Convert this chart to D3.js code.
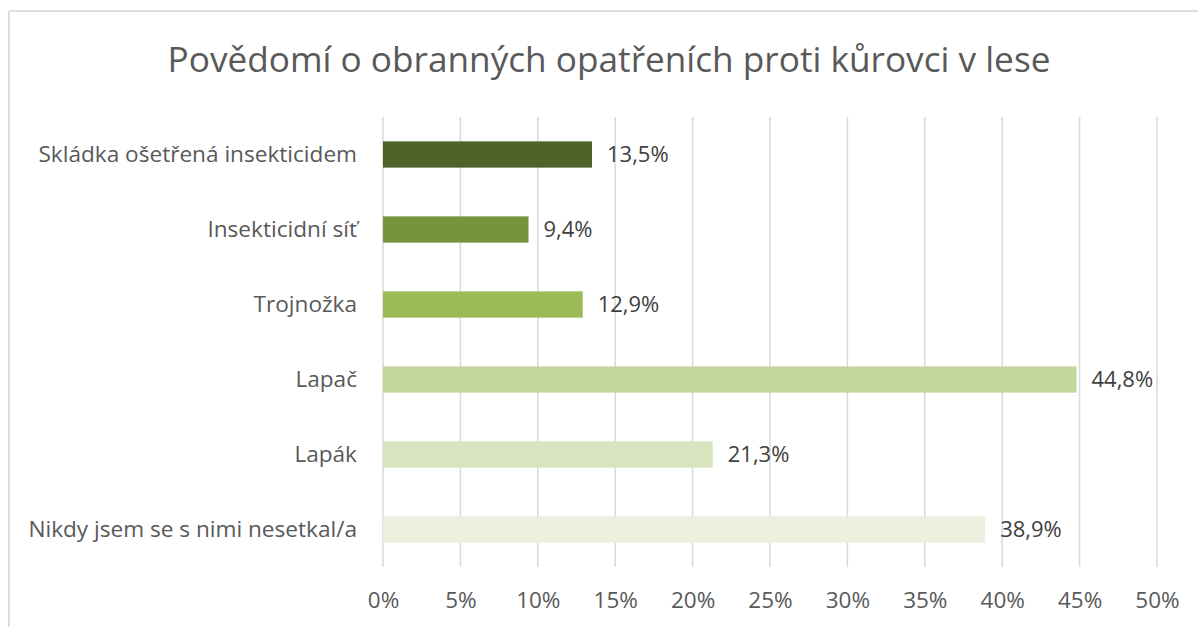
<!DOCTYPE html>
<html lang="cs">
  <head>
    <meta charset="utf-8">
    <title>Povědomí o obranných opatřeních</title>
    <script src="https://cdn.jsdelivr.net/npm/d3@7"></script>
    <style>
      body { margin: 0; background: #fff; }
      text { font-family: "Open Sans", sans-serif; }
    </style>
  </head>
  <body>
    <script>

      /* data */
      const categories = [
        "Skládka ošetřená insekticidem",
        "Insekticidní síť",
        "Trojnožka",
        "Lapač",
        "Lapák",
        "Nikdy jsem se s nimi nesetkal/a"
      ];
      const values = [13.5, 9.4, 12.9, 44.8, 21.3, 38.9];
      const barColors = ["#4f6228", "#77933c", "#9bbb59", "#c3d69b", "#d7e4bd", "#ebf1de"];
      const tickValues = [0, 5, 10, 15, 20, 25, 30, 35, 40, 45, 50];
      const TITLE = "Povědomí o obranných opatřeních proti kůrovci v lese";

      /* layout */
      const W = 1198, H = 627;
      const PLOT_LEFT = 383, PLOT_RIGHT = 1157;
      const PLOT_TOP = 117, PLOT_BOTTOM = 567;
      const FONT = "'Open Sans', sans-serif";

      const svg = d3.select("body").append("svg")
        .attr("width", W)
        .attr("height", H);

      // chart frame (only top and left edges show)
      svg.append("line")
        .attr("x1", 9).attr("y1", 11).attr("x2", W).attr("y2", 11)
        .attr("stroke", "#dedede").attr("stroke-width", 2);
      svg.append("line")
        .attr("x1", 9).attr("y1", 11).attr("x2", 9).attr("y2", H)
        .attr("stroke", "#dedede").attr("stroke-width", 2);

      const x = d3.scaleLinear()
        .domain([0, 50])
        .range([PLOT_LEFT, PLOT_RIGHT]);

      const y = d3.scaleBand()
        .domain(categories)
        .range([PLOT_TOP, PLOT_BOTTOM])
        .paddingInner(0.65)
        .paddingOuter(0.325);

      // gridlines
      svg.append("g")
        .selectAll("line")
        .data(tickValues)
        .join("line")
          .attr("x1", d => x(d)).attr("x2", d => x(d))
          .attr("y1", PLOT_TOP).attr("y2", PLOT_BOTTOM)
          .attr("stroke", "#d9d9d9")
          .attr("stroke-width", 1.5);

      // x axis labels
      const xAxis = d3.axisBottom(x)
        .tickValues(tickValues)
        .tickSize(0)
        .tickPadding(0)
        .tickFormat(d => d + "%");

      const gx = svg.append("g")
        .attr("transform", "translate(0," + 600 + ")")
        .call(xAxis);
      gx.select(".domain").remove();
      gx.selectAll("text")
        .attr("dy", "0.35em")
        .attr("y", 0)
        .attr("font-size", 22.5)
        .attr("font-family", FONT)
        .attr("fill", "#595959");

      // y axis labels
      const yAxis = d3.axisLeft(y).tickSize(0).tickPadding(0);
      const gy = svg.append("g")
        .attr("transform", "translate(357,0)")
        .call(yAxis);
      gy.select(".domain").remove();
      gy.selectAll("text")
        .attr("font-size", 22.6)
        .attr("font-family", FONT)
        .attr("fill", "#595959");

      // bars
      svg.append("g")
        .selectAll("rect")
        .data(categories)
        .join("rect")
          .attr("x", x(0))
          .attr("y", d => y(d))
          .attr("width", (d, i) => x(values[i]) - x(0))
          .attr("height", y.bandwidth())
          .attr("fill", (d, i) => barColors[i]);

      // value labels
      svg.append("g")
        .selectAll("text")
        .data(categories)
        .join("text")
          .attr("x", (d, i) => x(values[i]) + 15)
          .attr("y", d => y(d) + y.bandwidth() / 2)
          .attr("dy", "0.35em")
          .attr("font-size", 22)
          .attr("fill", "#404040")
          .text((d, i) => values[i].toFixed(1).replace(".", ",") + "%");

      // title
      svg.append("text")
        .attr("x", 609)
        .attr("y", 72)
        .attr("text-anchor", "middle")
        .attr("font-size", 35.2)
        .attr("fill", "#595959")
        .text(TITLE);

    </script>
  </body>
</html>
